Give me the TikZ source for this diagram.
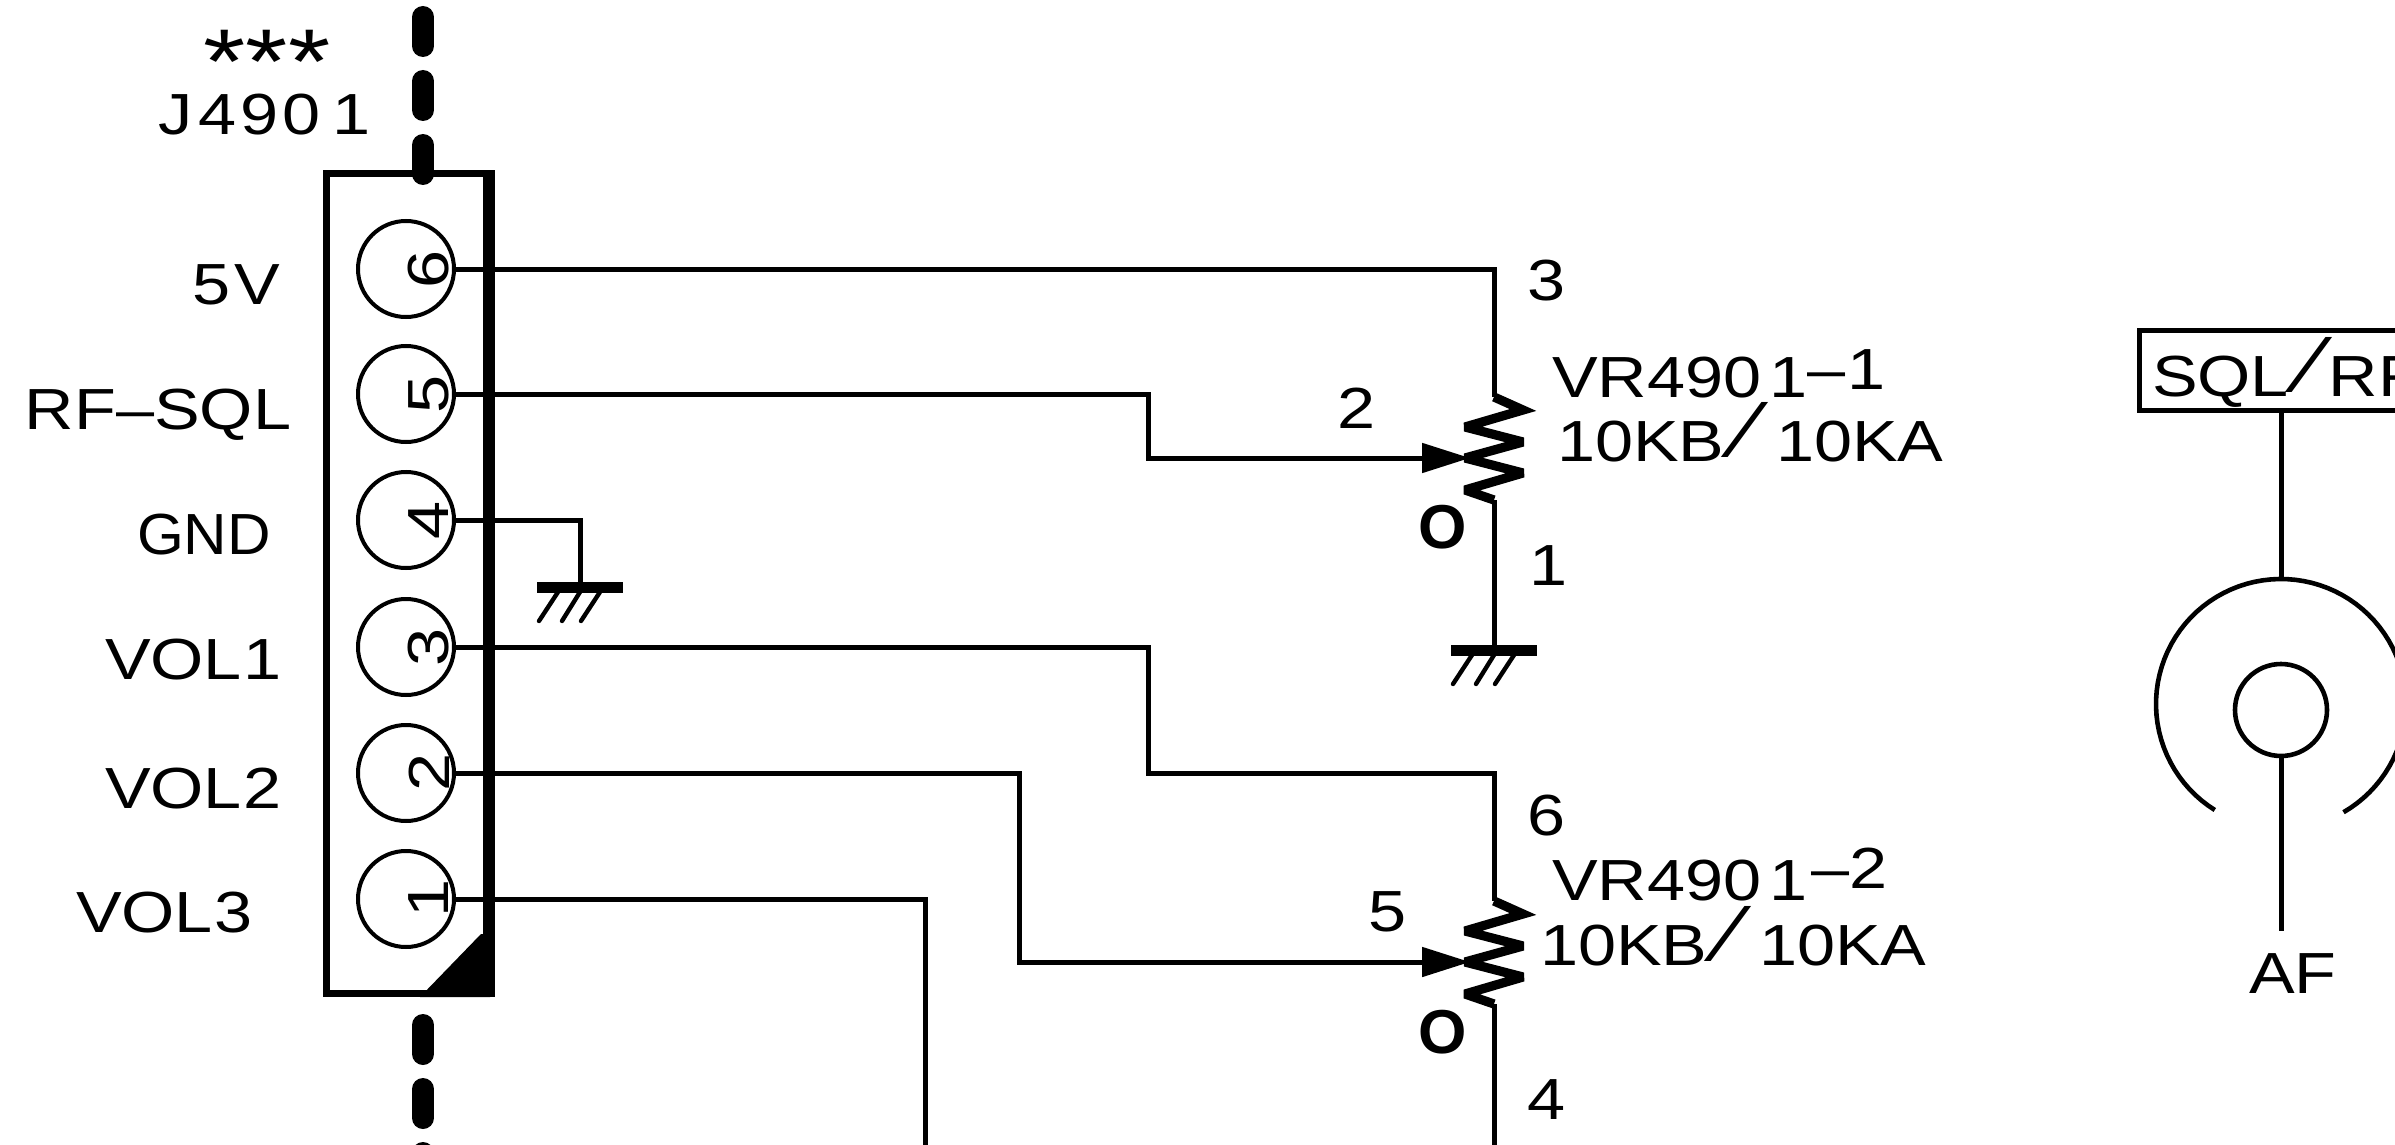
\documentclass[tikz,border=0pt]{standalone}
\usepackage{fontspec}
\usepackage{graphicx}
\setmainfont[FakeStretch=1.18]{Liberation Sans}
\usetikzlibrary{arrows.meta}
\newcommand{\bigslash}[1]{\kern8pt\raisebox{2pt}{\fontsize{40}{40}\selectfont\char"2044}\kern#1}
\tikzset{
  wire/.style={line width=2.5pt,line join=miter},
  txt/.style={inner sep=0pt,outer sep=0pt,font=\fontsize{29}{29}\selectfont,anchor=base west},
  ctxt/.style={inner sep=0pt,outer sep=0pt,font=\fontsize{29}{29}\selectfont,anchor=center},
  pinnum/.style={ctxt,rotate=90},
  pinring/.style={circle,draw,line width=2pt,minimum size=96pt*0.5,inner sep=0pt},
  thickdash/.style={line width=11pt,line cap=round,dash pattern=on 14.5pt off 17.5pt},
  marko/.style={ctxt,font=\fontsize{31}{31}\selectfont\bfseries},
  potwiper/.style={wire,-{Triangle[length=24pt,width=14.5pt]}},
  gndmark/.pic={
    \coordinate (-top) at (0,0);
    \draw[line width=5.5pt] (-43,0) -- (43,0);
    \draw[line width=2.2pt,line cap=round] (-22,5) -- (-41,34) (0,5) -- (-18,34) (20,5) -- (1,34);
  },
  potmark/.pic={
    \coordinate (-top) at (0,0);
    \coordinate (-wiper) at (-24,61);
    \coordinate (-bot) at (0,103);
    \draw[line width=4.6pt,miter limit=3] (0,0) -- (29,13) -- (-29,30) -- (29,45) -- (-29,61) -- (29,76) -- (-29,93) -- (0,103);
  }
}
\begin{document}
\begin{tikzpicture}[x=0.5pt,y=-0.5pt]
\useasboundingbox (0,0) rectangle (2395,1145);
\clip (0,0) rectangle (2395,1145);
\fill[white] (0,0) rectangle (2395,1145);

% connector body
\node[draw,line width=3.5pt,minimum width=80pt,minimum height=409.5pt,inner sep=0pt] (conn) at (406,583.5) {};
\draw[line width=5pt] (conn.north east) -- (conn.south east);
\fill (420,997) -- (481,934) -- (490,934) -- (490,997) -- cycle;
\draw[thickdash] (423,17) -- (423,175);
\draw[thickdash] (423,1025) -- (423,1165);

% pins
\node[pinring] (p6) at (406,269) {};
\node[pinring] (p5) at (406,394) {};
\node[pinring] (p4) at (406,520) {};
\node[pinring] (p3) at (406,647) {};
\node[pinring] (p2) at (406,773) {};
\node[pinring] (p1) at (406,899) {};
\node[pinnum] (n6) at (429,269) {6};
\node[pinnum] (n5) at (429,394) {5};
\node[pinnum] (n4) at (429,520) {4};
\node[pinnum] (n3) at (429,647) {3};
\node[pinnum] (n2) at (429,772) {2};
\node[pinnum] (n1) at (429,898) {1};

% connector labels
\node[ctxt,font=\fontsize{46}{46}\selectfont] (stars) at (267,62) {***};
\node[txt] (jref) at (158,135) {J\kern3pt 4\kern2pt 9\kern2pt 0\kern6pt 1};
\node[txt] (l5v) at (192,304) {5\kern2pt V};
\node[txt] (lrf) at (25,429) {RF–SQL};
\node[txt] (lgnd) at (137,554) {\scalebox{0.88}[1]{GND}};
\node[txt] (lv1) at (105,679) {VOL\kern1pt 1};
\node[txt] (lv2) at (105,808) {VOL\kern1pt 2};
\node[txt] (lv3) at (76,932) {VOL\kern1pt 3};

% potentiometers
\pic (ra) at (1494,397) {potmark};
\pic (rb) at (1494,901) {potmark};
\pic (ga) at (1494,650) {gndmark};
\pic (gb) at (580,587) {gndmark};

% wires
\coordinate (w5a) at (1148,394);
\coordinate (w5b) at (1148,458);
\coordinate (ta) at (1494,269);
\draw[wire] (p6.east) -- (ta) -- (ra-top);
\draw[potwiper] (p5.east) -- (w5a) -- (w5b) -- (ra-wiper);
\coordinate (w4a) at (580,520);
\draw[wire] (p4.east) -- (w4a) -- (gb-top);
\draw[wire] (ra-bot) -- (ga-top);
\coordinate (w3a) at (1148,647);
\coordinate (w3b) at (1148,773);
\coordinate (tb) at (1494,773);
\draw[wire] (p3.east) -- (w3a) -- (w3b) -- (tb) -- (rb-top);
\coordinate (w2a) at (1019,773);
\coordinate (w2b) at (1019,962);
\draw[potwiper] (p2.east) -- (w2a) -- (w2b) -- (rb-wiper);
\coordinate (w1a) at (925,899);
\coordinate (w1b) at (925,1150);
\draw[wire] (p1.east) -- (w1a) -- (w1b);
\coordinate (bb) at (1494,1150);
\draw[wire] (rb-bot) -- (bb);

% potentiometer labels
\node[ctxt] (t3) at (1547,281) {3};
\node[ctxt] (t2) at (1357,408) {2};
\node[ctxt] (t1) at (1549,566) {1};
\node[ctxt] (t6) at (1547,816) {6};
\node[ctxt] (t5) at (1388,912) {5};
\node[ctxt] (t4) at (1547,1100) {4};
\node[marko] (oa) at (1443,527) {\scalebox{0.85}[1]{O}};
\node[marko] (ob) at (1443,1032) {\scalebox{0.85}[1]{O}};
\node[txt] (va) at (1552,397) {VR490\kern4pt 1\raisebox{4pt}{–\kern1pt 1}};
\node[txt] (vb) at (1552,900) {VR490\kern4pt 1\kern2pt\raisebox{6pt}{–2}};
\node[txt] (ka) at (1557,461) {10KB\bigslash{10pt}10KA};
\node[txt] (kb) at (1540,965) {10KB\bigslash{10pt}10KA};

% right-hand switch symbol
\node[draw,line width=2.5pt,minimum width=200pt,minimum height=40pt,inner sep=0pt] (sw) at (2339,370.5) {};
\node[txt] (swt) at (2152,396) {SQL\bigslash{4pt}RF};
\coordinate (swb) at (2281,410);
\coordinate (outer) at (2281,579);
\draw[wire] (swb) -- (outer);
\draw[line width=2.3pt] plot[domain=122:420,samples=80] ({2281+125*cos(\x)},{704+125*sin(\x)});
\node[circle,draw,line width=2.3pt,minimum size=46pt,inner sep=0pt] (inner) at (2281,710) {};
\coordinate (afend) at (2281,931);
\draw[wire] (inner.south) -- (afend);
\node[txt] (af) at (2249,993) {AF};
\end{tikzpicture}
\end{document}
